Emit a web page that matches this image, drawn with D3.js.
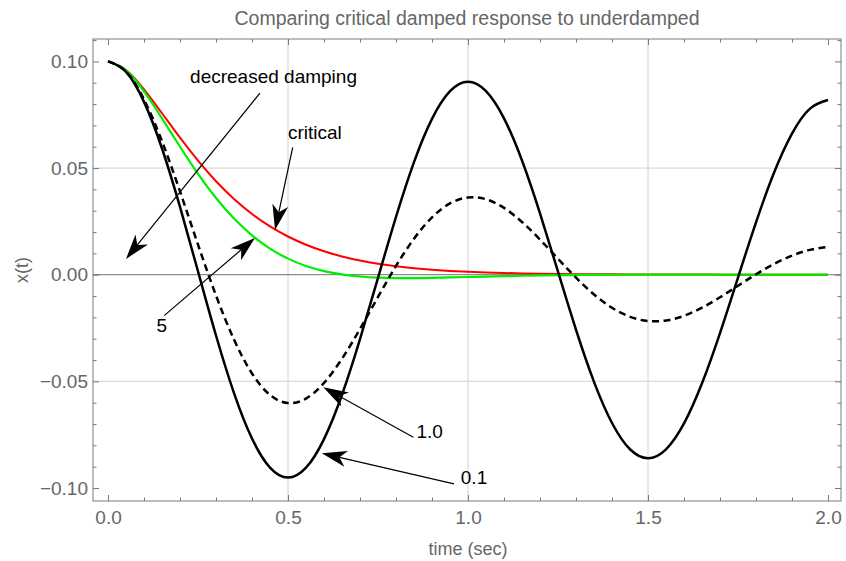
<!DOCTYPE html>
<html>
<head>
<meta charset="utf-8">
<script src="https://cdn.jsdelivr.net/npm/d3@7"></script>
<style>
  html, body { margin: 0; padding: 0; background: #fff; }
  svg { display: block; }
  text { font-family: "Liberation Sans", Arial, Helvetica, sans-serif; }
</style>
</head>
<body>
<svg id="chart" width="846" height="561"></svg>
<script>
// Sample times (seconds)
const timeSec = [0, 0.05, 0.1, 0.15, 0.2, 0.25, 0.3, 0.35, 0.4, 0.45, 0.5, 0.55, 0.6, 0.65, 0.7, 0.75, 0.8, 0.85, 0.9, 0.95,
  1, 1.05, 1.1, 1.15, 1.2, 1.25, 1.3, 1.35, 1.4, 1.45, 1.5, 1.55, 1.6, 1.65, 1.7, 1.75, 1.8, 1.85, 1.9, 1.95, 2];

// Displacement x(t) for each damping case
const damping01 = [0.1, 0.09512, 0.08102, 0.05917, 0.03177, 0.00155, -0.02852, -0.05552, -0.07683, -0.09045,
  -0.09512, -0.09048, -0.07707, -0.05629, -0.03022, -0.00148, 0.02713, 0.05281, 0.07308, 0.08604,
  0.09048, 0.08607, 0.07331, 0.05354, 0.02875, 0.00140, -0.02581, -0.05023, -0.06952, -0.08184,
  -0.08607, -0.08187, -0.06974, -0.05093, -0.02735, -0.00133, 0.02455, 0.04778, 0.06613, 0.07785, 0.08187];

const damping10 = [0.1, 0.09526, 0.08211, 0.06257, 0.03903, 0.01411, -0.00975, -0.03043, -0.04630, -0.05637,
  -0.06021, -0.05809, -0.05075, -0.03937, -0.02544, -0.01044, 0.00410, 0.01688, 0.02686, 0.03340,
  0.03620, 0.03536, 0.03131, 0.02472, 0.01646, 0.00746, -0.00139, -0.00926, -0.01552, -0.01974,
  -0.02172, -0.02149, -0.01928, -0.01548, -0.01060, -0.00520, 0.00017, 0.00502, 0.00893, 0.01164, 0.01301];

const damping5 = [0.1, 0.09583, 0.08592, 0.07329, 0.05998, 0.04729, 0.03595, 0.02630, 0.01842, 0.01223,
  0.00753, 0.00409, 0.00170, 0.00012, -0.00086, -0.00138, -0.00159, -0.00159, -0.00147, -0.00129,
  -0.00108, -0.00086, -0.00067, -0.00050, -0.00036, -0.00024, -0.00016, -0.00009, -0.00005, -0.00001,
  0.00001, 0, 0, 0, 0, 0, 0, 0, 0, 0, 0];

const critical = [0.1, 0.09599, 0.08687, 0.07569, 0.06423, 0.05344, 0.04380, 0.03548, 0.02846, 0.02264,
  0.01790, 0.01406, 0.01100, 0.00856, 0.00664, 0.00513, 0.00395, 0.00304, 0.00233, 0.00178,
  0.00136, 0.00104, 0.00079, 0.00060, 0.00045, 0.00034, 0.00026, 0.00020, 0.00015, 0.00011,
  0.00008, 0.00006, 0.00005, 0.00004, 0.00003, 0.00002, 0.00002, 0.00001, 0.00001, 0.00001, 0];

// Tick values
const xMajorTicks = [0, 0.5, 1.0, 1.5, 2.0];
const xMinorTicks = [0.1, 0.2, 0.3, 0.4, 0.6, 0.7, 0.8, 0.9, 1.1, 1.2, 1.3, 1.4, 1.6, 1.7, 1.8, 1.9];
const yMajorTicks = [-0.10, -0.05, 0.00, 0.05, 0.10];
const yMinorTicks = [-0.09, -0.08, -0.07, -0.06, -0.04, -0.03, -0.02, -0.01, 0.01, 0.02, 0.03, 0.04,
  0.06, 0.07, 0.08, 0.09, 0.11];
const xGrid = [0.5, 1.0, 1.5];
const yGrid = [-0.05, 0.05];

// Callouts: text anchor and arrow from/to, in data coordinates
const callouts = [
  { text: "decreased damping", tx: 0.228, ty: 0.0900, from: [0.422, 0.0851], to: [0.05, 0.0074] },
  { text: "critical",          tx: 0.500, ty: 0.0634, from: [0.513, 0.0597], to: [0.464, 0.0210] },
  { text: "5",                 tx: 0.135, ty: -0.0268, from: [0.156, -0.0192], to: [0.408, 0.0172] },
  { text: "1.0",               tx: 0.857, ty: -0.0766, from: [0.848, -0.0762], to: [0.598, -0.0528] },
  { text: "0.1",               tx: 0.980, ty: -0.0981, from: [0.961, -0.0981], to: [0.594, -0.0837] }
];

const svg = d3.select("#chart");
const frameL = 93, frameR = 841, frameT = 39, frameB = 501;

const x = d3.scaleLinear().domain([-0.0417, 2.0361]).range([frameL, frameR]);
const y = d3.scaleLinear().domain([-0.1061, 0.1105]).range([frameB, frameT]);

// Grid lines
const grid = svg.append("g");
grid.selectAll(".gx").data(xGrid).join("line")
  .attr("x1", d => x(d)).attr("x2", d => x(d))
  .attr("y1", frameT).attr("y2", frameB)
  .attr("stroke", "#dadada").attr("stroke-width", 1.2);
grid.selectAll(".gy").data(yGrid).join("line")
  .attr("x1", frameL).attr("x2", frameR)
  .attr("y1", d => y(d)).attr("y2", d => y(d))
  .attr("stroke", "#dadada").attr("stroke-width", 1.2);

// Zero axis
svg.append("line")
  .attr("x1", frameL).attr("x2", frameR)
  .attr("y1", y(0)).attr("y2", y(0))
  .attr("stroke", "#8c8c8c").attr("stroke-width", 1.2);

// Curves
const line = d3.line()
  .x((d, i) => x(timeSec[i]))
  .y(d => y(d))
  .curve(d3.curveNatural);

const plotG = svg.append("g");
plotG.append("path").datum(critical).attr("d", line)
  .attr("fill", "none").attr("stroke", "#ff0000").attr("stroke-width", 2);
plotG.append("path").datum(damping5).attr("d", line)
  .attr("fill", "none").attr("stroke", "#00ee00").attr("stroke-width", 2.2);
plotG.append("path").datum(damping10).attr("d", line)
  .attr("fill", "none").attr("stroke", "#000").attr("stroke-width", 2.5)
  .attr("stroke-dasharray", "7,4.5");
plotG.append("path").datum(damping01).attr("d", line)
  .attr("fill", "none").attr("stroke", "#000").attr("stroke-width", 2.5);

// Frame with inward ticks
const frameColor = "#7a7a7a";
const labelColor = "#666666";
const fs = "19px";

function styleAxis(g) {
  g.select(".domain").remove();
  g.selectAll(".tick line").attr("stroke", frameColor).attr("stroke-width", 1);
  g.selectAll(".tick text").attr("fill", labelColor).style("font-size", fs)
    .style("font-family", "'Liberation Sans', Arial, Helvetica, sans-serif");
}

svg.append("g").attr("transform", `translate(0,${frameB})`)
  .call(d3.axisBottom(x).tickValues(xMajorTicks).tickSize(-6).tickPadding(10).tickFormat(d3.format(".1f")))
  .call(styleAxis);
svg.append("g").attr("transform", `translate(0,${frameB})`)
  .call(d3.axisBottom(x).tickValues(xMinorTicks).tickSize(-3.5).tickFormat(""))
  .call(styleAxis);
svg.append("g").attr("transform", `translate(0,${frameT})`)
  .call(d3.axisTop(x).tickValues(xMajorTicks).tickSize(-6).tickFormat(""))
  .call(styleAxis);
svg.append("g").attr("transform", `translate(0,${frameT})`)
  .call(d3.axisTop(x).tickValues(xMinorTicks).tickSize(-3.5).tickFormat(""))
  .call(styleAxis);

svg.append("g").attr("transform", `translate(${frameL},0)`)
  .call(d3.axisLeft(y).tickValues(yMajorTicks).tickSize(-6).tickPadding(5).tickFormat(d3.format(".2f")))
  .call(styleAxis);
svg.append("g").attr("transform", `translate(${frameL},0)`)
  .call(d3.axisLeft(y).tickValues(yMinorTicks).tickSize(-3.5).tickFormat(""))
  .call(styleAxis);
svg.append("g").attr("transform", `translate(${frameR},0)`)
  .call(d3.axisRight(y).tickValues(yMajorTicks).tickSize(-6).tickFormat(""))
  .call(styleAxis);
svg.append("g").attr("transform", `translate(${frameR},0)`)
  .call(d3.axisRight(y).tickValues(yMinorTicks).tickSize(-3.5).tickFormat(""))
  .call(styleAxis);

svg.append("rect")
  .attr("x", frameL).attr("y", frameT)
  .attr("width", frameR - frameL).attr("height", frameB - frameT)
  .attr("fill", "none").attr("stroke", frameColor).attr("stroke-width", 1);

// Title and axis labels
svg.append("text")
  .attr("x", 467).attr("y", 25)
  .attr("text-anchor", "middle")
  .attr("fill", labelColor).style("font-size", "19.5px")
  .text("Comparing critical damped response to underdamped");

svg.append("text")
  .attr("x", 468).attr("y", 555)
  .attr("text-anchor", "middle")
  .attr("fill", labelColor).style("font-size", "18px")
  .text("time (sec)");

svg.append("text")
  .attr("transform", `translate(28,${(frameT + frameB) / 2}) rotate(-90)`)
  .attr("text-anchor", "middle")
  .attr("fill", labelColor).style("font-size", "18px")
  .text("x(t)");

// Callout arrows and labels
function arrowHead(p0, p1, L, W, N) {
  const dx = p1[0] - p0[0], dy = p1[1] - p0[1];
  const len = Math.hypot(dx, dy);
  const ux = dx / len, uy = dy / len;
  const px = -uy, py = ux;
  const bx = p1[0] - L * ux, by = p1[1] - L * uy;
  return {
    poly: [
      [p1[0], p1[1]],
      [bx + px * W / 2, by + py * W / 2],
      [p1[0] - N * ux, p1[1] - N * uy],
      [bx - px * W / 2, by - py * W / 2]
    ],
    notch: [p1[0] - N * ux, p1[1] - N * uy]
  };
}

const ann = svg.append("g");
callouts.forEach(c => {
  const p0 = [x(c.from[0]), y(c.from[1])];
  const p1 = [x(c.to[0]), y(c.to[1])];
  const h = arrowHead(p0, p1, 25, 16, 18);
  ann.append("line")
    .attr("x1", p0[0]).attr("y1", p0[1])
    .attr("x2", h.notch[0]).attr("y2", h.notch[1])
    .attr("stroke", "#000").attr("stroke-width", 1.2);
  ann.append("polygon")
    .attr("points", h.poly.map(p => p.join(",")).join(" "))
    .attr("fill", "#000");
  ann.append("text")
    .attr("x", x(c.tx)).attr("y", y(c.ty))
    .attr("fill", "#000").style("font-size", "19px")
    .text(c.text);
});
</script>
</body>
</html>
